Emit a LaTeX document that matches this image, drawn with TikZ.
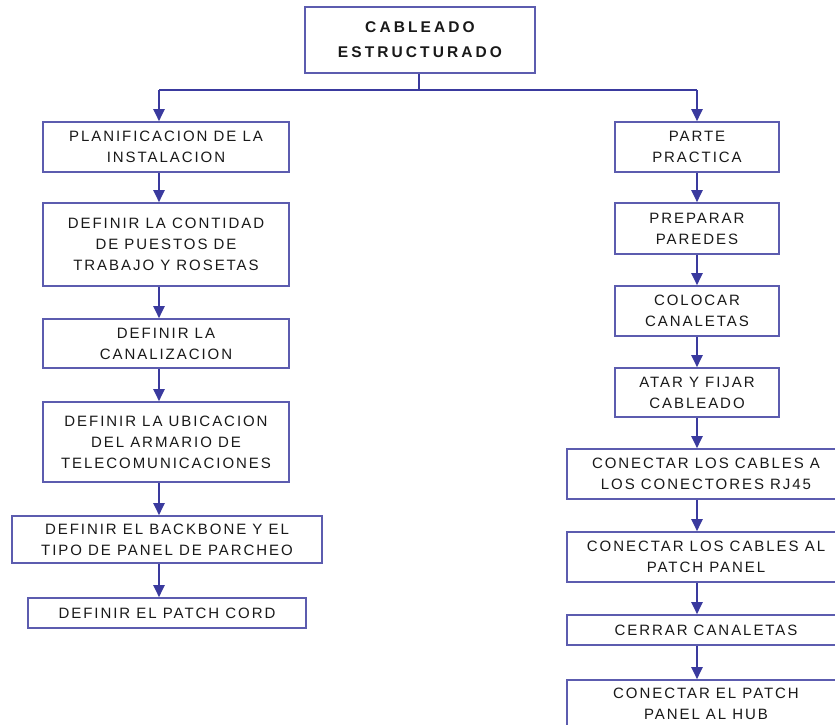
\documentclass[tikz,border=0pt]{standalone}
\usepackage{fontspec}
\newfontfamily\boxfont[LetterSpace=13]{Liberation Sans}
\newfontfamily\titlefont[LetterSpace=20]{Liberation Sans}
\usetikzlibrary{arrows.meta}
\definecolor{linecol}{RGB}{58,58,158}
\definecolor{boxcol}{RGB}{92,92,175}
\definecolor{txtcol}{RGB}{25,25,25}
\tikzset{
  stepbox/.style={draw=boxcol, line width=1.6pt, fill=white, inner sep=0pt,
    align=center, text=txtcol, font=\boxfont\fontsize{15}{21}\selectfont},
  titlebox/.style={stepbox, font=\titlefont\bfseries\fontsize{15.5}{25}\selectfont},
  link/.style={draw=linecol, line width=2pt},
  arr/.style={link, -{Triangle[width=11pt,length=12pt]}}
}
\begin{document}
\begin{tikzpicture}[x=1pt,y=-1pt]
\useasboundingbox (0,0) rectangle (835,725);
\fill[white] (0,0) rectangle (835,725);
\clip (0,0) rectangle (835,725);
% title
\node[titlebox, minimum width=230pt, minimum height=66pt] (top) at (420,40) {CABLEADO\\ESTRUCTURADO};
% left column
\node[stepbox, minimum width=246pt, minimum height=50pt] (L1) at (166,147) {PLANIFICACION DE LA\\INSTALACION};
\node[stepbox, minimum width=246pt, minimum height=83pt] (L2) at (166,244.5) {DEFINIR LA CONTIDAD\\DE PUESTOS DE\\TRABAJO Y ROSETAS};
\node[stepbox, minimum width=246pt, minimum height=49pt] (L3) at (166,343.5) {DEFINIR LA\\CANALIZACION};
\node[stepbox, minimum width=246pt, minimum height=80pt] (L4) at (166,442) {DEFINIR LA UBICACION\\DEL ARMARIO DE\\TELECOMUNICACIONES};
\node[stepbox, minimum width=310pt, minimum height=47pt] (L5) at (167,539.5) {DEFINIR EL BACKBONE Y EL\\TIPO DE PANEL DE PARCHEO};
\node[stepbox, minimum width=278pt, minimum height=30pt] (L6) at (167,613) {DEFINIR EL PATCH CORD};
% right column
\node[stepbox, minimum width=164pt, minimum height=50pt] (R1) at (697,147) {PARTE\\PRACTICA};
\node[stepbox, minimum width=164pt, minimum height=51pt] (R2) at (697,228.5) {PREPARAR\\PAREDES};
\node[stepbox, minimum width=164pt, minimum height=50pt] (R3) at (697,311) {COLOCAR\\CANALETAS};
\node[stepbox, minimum width=164pt, minimum height=49pt] (R4) at (697,392.5) {ATAR Y FIJAR\\CABLEADO};
\node[stepbox, minimum width=278pt, minimum height=50pt] (R5) at (706,474) {CONECTAR LOS CABLES A\\LOS CONECTORES RJ45};
\node[stepbox, minimum width=278pt, minimum height=50pt] (R6) at (706,557) {CONECTAR LOS CABLES AL\\PATCH PANEL};
\node[stepbox, minimum width=278pt, minimum height=30pt] (R7) at (706,630) {CERRAR CANALETAS};
\node[stepbox, minimum width=278pt, minimum height=48pt] (R8) at (706,704) {CONECTAR EL PATCH\\PANEL AL HUB};
% junctions
\coordinate (jM) at (419,90);
\coordinate (jL) at (159,90);
\coordinate (jR) at (697,90);
\draw[link] (top.south -| jM) -- (jM);
\draw[link] (jL) -- (jR);
\draw[arr] (jL) -- (jL |- L1.north);
\draw[arr] (jR) -- (jR |- R1.north);
\foreach \a/\b in {L1/L2,L2/L3,L3/L4,L4/L5,L5/L6}
  \draw[arr] (\a.south -| jL) -- (\b.north -| jL);
\foreach \a/\b in {R1/R2,R2/R3,R3/R4,R4/R5,R5/R6,R6/R7,R7/R8}
  \draw[arr] (\a.south -| jR) -- (\b.north -| jR);
\end{tikzpicture}
\end{document}
